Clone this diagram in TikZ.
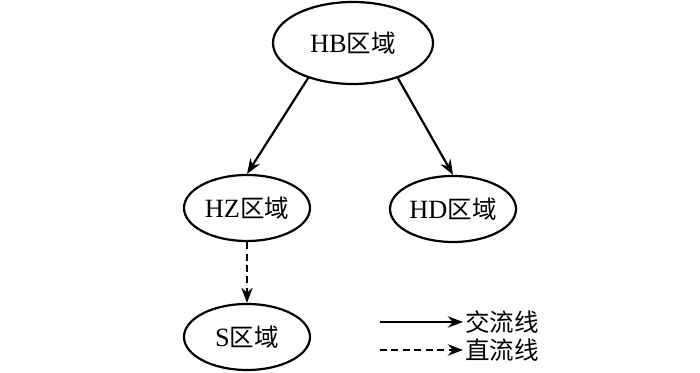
\documentclass[tikz,border=0pt]{standalone}
\usepackage{fontspec}
\setmainfont{Liberation Serif}
\newfontfamily\cjk[Scale=0.93]{Noto Sans CJK SC}
\usepackage{tikz}
\usetikzlibrary{arrows.meta, shapes.geometric}

\begin{document}
\begin{tikzpicture}[
   bigell/.style={ellipse, draw=black, line width=1.25, inner sep=0,
                  minimum width=3.2cm, minimum height=1.64cm},
   areaell/.style={ellipse, draw=black, line width=1.25, inner sep=0,
                   minimum width=2.52cm, minimum height=1.32cm},
   flowtext/.style={anchor=west, inner sep=1}
  ]
  \fontsize{15}{18}\selectfont
  \useasboundingbox (0, 0) rectangle (14, 7.46);

  \node (HB) at (7.06, 6.6) [bigell] {HB{\cjk 区域}};

  \node (HZ) at (4.94, 3.3) [areaell] {HZ{\cjk 区域}};
  \node (HD) at (9.06, 3.28) [areaell] {HD{\cjk 区域}};

  \node (S) at (4.94, 0.72) [areaell] {S{\cjk 区域}};

  \foreach \B/\E in {HB.218/HZ.north, HB.322/HD.north} {
    \draw[->, >=Stealth, line width=1.25] (\B) -- (\E);
  }
  \draw[->, >=Stealth, line width=1.25, dash pattern=on 4pt off 2.5pt] (HZ) -- (S);

  % legend
  \coordinate (ac0) at (7.6, 1.02);
  \node (ac) at (9.26, 1.02) [flowtext] {\cjk 交流线};
  \coordinate (dc0) at (7.6, 0.46);
  \node (dc) at (9.26, 0.46) [flowtext] {\cjk 直流线};

  \draw[->, >=Stealth, line width=1.25] (ac0) -- (ac);
  \draw[->, >=Stealth, line width=1.25, dash pattern=on 4pt off 2.5pt] (dc0) -- (dc);

\end{tikzpicture}
\end{document}
